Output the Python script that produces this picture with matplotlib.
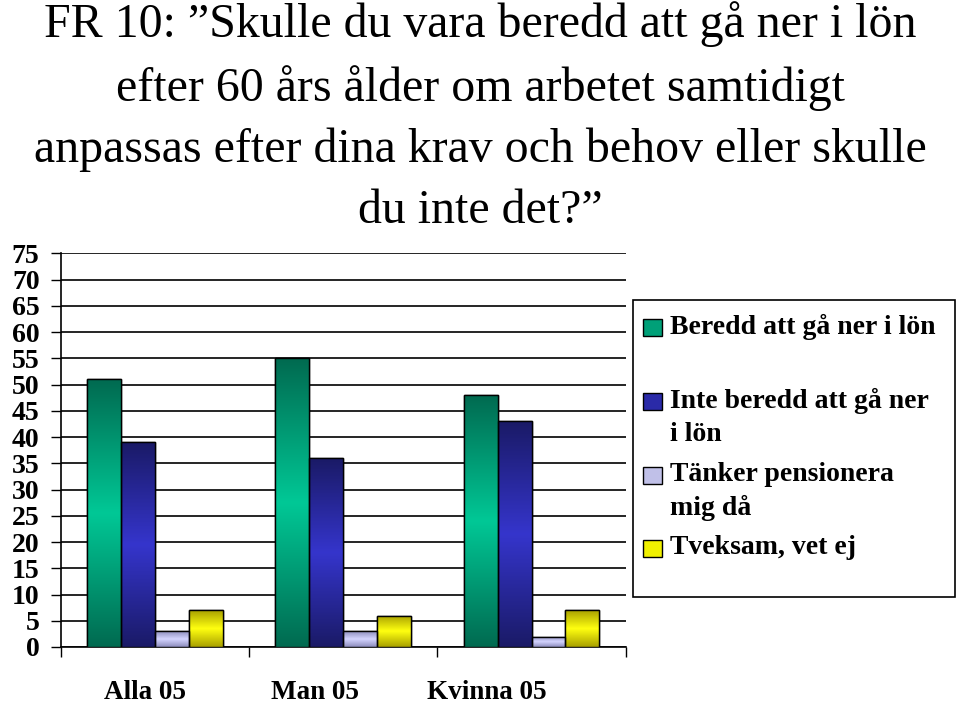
import numpy as np
import matplotlib
matplotlib.use("Agg")
import matplotlib.pyplot as plt
from matplotlib.colors import LinearSegmentedColormap
from matplotlib.patches import Rectangle

categories = ["Alla 05", "Man 05", "Kvinna 05"]
series_names = ["Beredd att gå ner i lön", "Inte beredd att gå ner\ni lön",
                "Tänker pensionera\nmig då", "Tveksam, vet ej"]
beredd = [51, 55, 48]
inte_beredd = [39, 36, 43]
pensionera = [3, 3, 2]
tveksam = [7, 6, 7]
yticks = list(range(0, 80, 5))
title = ("FR 10: \u201dSkulle du vara beredd att gå ner i lön\n"
         "efter 60 års ålder om arbetet samtidigt\n"
         "anpassas efter dina krav och behov eller skulle\n"
         "du inte det?\u201d")

series = [beredd, inte_beredd, pensionera, tveksam]
dark = ["#006a50", "#1a1a66", "#8c8cbc", "#a8a000"]
bright = ["#00c896", "#3535cc", "#d4d4ff", "#ffff10"]
legend_col = ["#00a078", "#2a2aa8", "#c0c0e8", "#f0f000"]

serif = ["Liberation Serif", "DejaVu Serif"]
plt.rcParams['font.family'] = serif

fig = plt.figure(figsize=(9.6, 7.04), dpi=100)
L, R, B, T = 60.7, 625.7, 647.0, 253.3
W, H = 960.0, 704.0
ax = fig.add_axes([L / W, 1 - B / H, (R - L) / W, (B - T) / H])

x = np.arange(len(categories))
bw = 0.72 / 4
grad = np.linspace(0, 1, 256).reshape(-1, 1)
for i, vals in enumerate(series):
    bars = ax.bar(x + (i - 1.5) * bw, vals, bw, color=bright[i],
                  edgecolor="black", linewidth=1.0, zorder=3)
    cmap = LinearSegmentedColormap.from_list("g%d" % i, [dark[i], bright[i], dark[i]])
    for b in bars:
        x0, y0 = b.get_x(), b.get_y()
        im = ax.imshow(grad, cmap=cmap, aspect="auto", origin="lower",
                       extent=(x0, x0 + b.get_width(), y0, y0 + b.get_height()),
                       zorder=3.5, interpolation="bilinear")
        im.set_clip_path(b)
        edge = Rectangle((x0, y0), b.get_width(), b.get_height(), fill=False,
                         edgecolor="black", linewidth=1.0, zorder=4)
        ax.add_patch(edge)

ax.set_xlim(-0.5, len(categories) - 0.5)
ax.set_ylim(0, 75)
ax.set_yticks(yticks)
ax.set_yticklabels([str(v) for v in yticks], fontsize=20, fontweight="bold")
ax.yaxis.grid(True, color="black", linewidth=1.2, zorder=0)
ax.set_axisbelow(True)
ax.tick_params(axis="y", length=7.2, width=1.0, pad=8, direction="out")
ax.set_xticks(np.arange(len(categories) + 1) - 0.5)
ax.set_xticklabels([])
ax.tick_params(axis="x", length=7.2, width=1.0, direction="out")
for s in ["top", "right"]:
    ax.spines[s].set_visible(False)
for s in ["left", "bottom"]:
    ax.spines[s].set_linewidth(1.2)

# category labels (slightly left of the category centres, as in the reference)
label_shift = [-0.05, -0.15, -0.24]
for i, c in enumerate(categories):
    ax.text(x[i] + label_shift[i], -8.6, c, ha="center", va="center",
            fontsize=19.5, fontweight="bold", clip_on=False)

fig.text(0.5, 0.998, title, ha="center", va="top", fontsize=34.5,
         linespacing=1.49)

# legend box
fig.patches.append(Rectangle((633 / W, 1 - 597 / H), 322 / W, 297 / H,
                             transform=fig.transFigure, fill=False,
                             edgecolor="black", linewidth=1.2))
ys = [327, 401, 475, 548]
for i, name in enumerate(series_names):
    fig.patches.append(Rectangle((643 / W, 1 - (ys[i] + 8.5) / H), 19 / W, 17 / H,
                                 transform=fig.transFigure, facecolor=legend_col[i],
                                 edgecolor="black", linewidth=1.0))
    fig.text(670 / W, 1 - (ys[i] - 13) / H, name, ha="left", va="top",
             fontsize=20, fontweight="bold", linespacing=1.4)

fig.savefig("out.png", dpi=100)
